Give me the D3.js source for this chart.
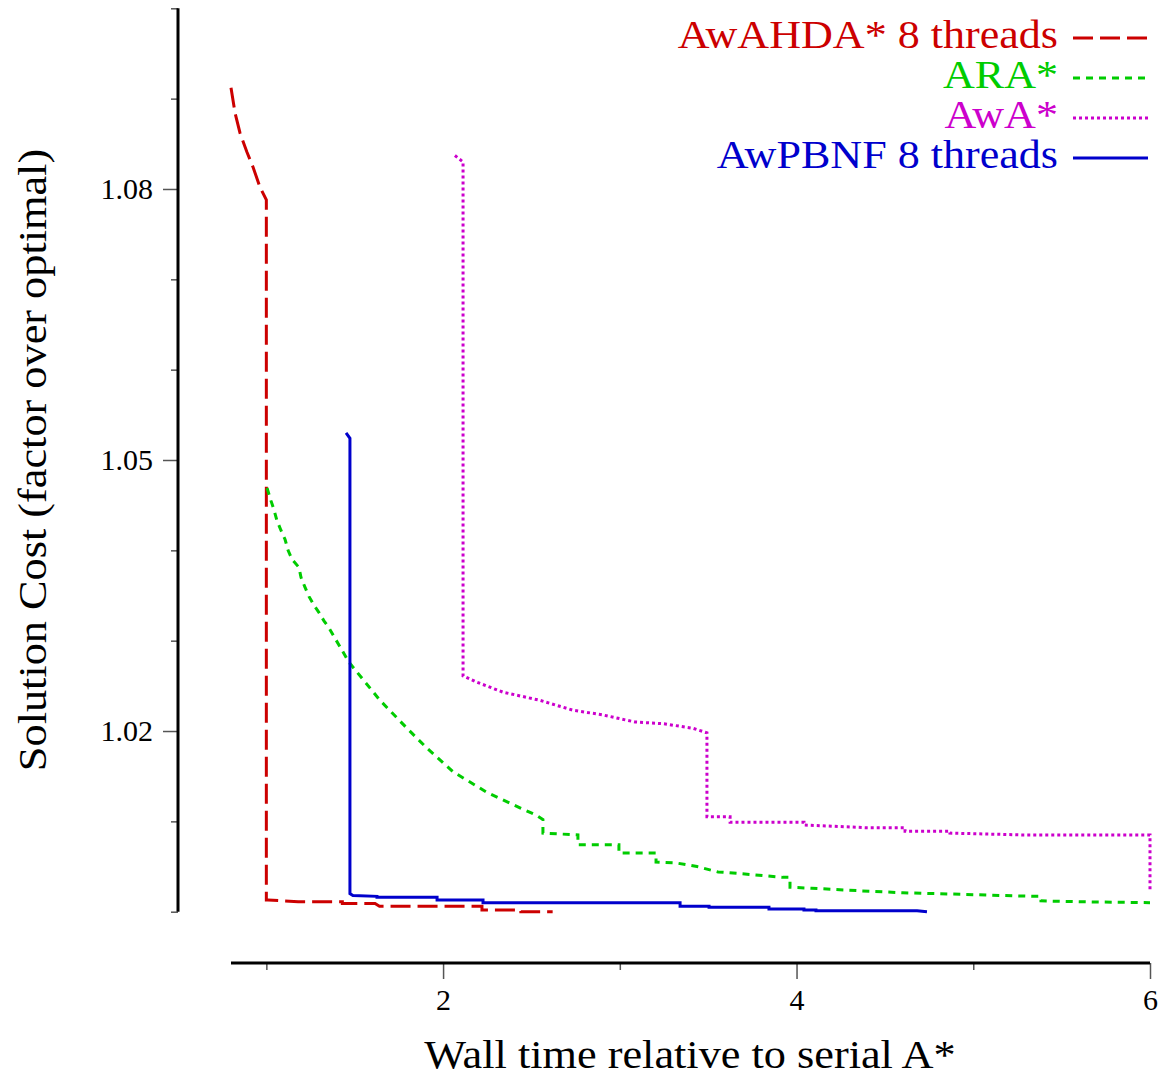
<!DOCTYPE html>
<html>
<head>
<meta charset="utf-8">
<script src="https://cdn.jsdelivr.net/npm/d3@7"></script>
<style>
  body { margin: 0; background: #fff; }
  svg { display: block; }
</style>
</head>
<body>
<div class="chart"></div>
<script>
// Chart parameters
const width = 1163;
const height = 1076;
const plot = { left: 231, right: 1150, top: 8.3, bottom: 911.7 };
const yAxisX = 178;
const xAxisY = 963;
const fontFamily = "'Liberation Serif', 'DejaVu Serif', serif";

// Series data (wall time relative to serial A*, solution cost)
const awahdaTime = [0.8, 0.823, 0.851, 0.89, 0.925, 0.964, 1.0, 1.0, 1.009, 1.18, 1.43, 1.43, 1.615, 1.64, 2.22, 2.22, 2.44, 2.44, 2.62];
const awahdaCost = [1.0912, 1.0884, 1.0862, 1.0841, 1.0824, 1.0802, 1.0788, 1.0013, 1.0013, 1.0011, 1.0011, 1.0009, 1.0009, 1.0006, 1.0006, 1.0002, 1.0002, 1.0, 1.0];

const araTime = [1.004, 1.026, 1.043, 1.06, 1.083, 1.106, 1.123, 1.145, 1.185, 1.196, 1.219, 1.241, 1.27, 1.298, 1.326, 1.355, 1.468, 1.643, 1.796, 1.909, 2.056, 2.249, 2.435, 2.526, 2.565, 2.565, 2.763, 2.763, 2.995, 2.995, 3.205, 3.205, 3.318, 3.437, 3.556, 3.691, 3.923, 3.963, 3.963, 4.087, 4.37, 4.602, 5.344, 5.383, 5.383, 5.604, 6.0];
const araCost = [1.0469, 1.0455, 1.0445, 1.0433, 1.0422, 1.0412, 1.04, 1.039, 1.0381, 1.037, 1.0359, 1.0349, 1.0339, 1.0331, 1.0322, 1.0314, 1.0276, 1.0234, 1.0203, 1.0181, 1.0155, 1.0132, 1.0115, 1.0107, 1.0102, 1.0087, 1.0085, 1.0074, 1.0074, 1.0065, 1.0065, 1.0055, 1.0054, 1.005, 1.0044, 1.0042, 1.0038, 1.0038, 1.0027, 1.0026, 1.0023, 1.0021, 1.0017, 1.0017, 1.0012, 1.0011, 1.001];

const awaTime = [2.067, 2.113, 2.113, 2.192, 2.339, 2.548, 2.735, 2.899, 3.086, 3.25, 3.414, 3.493, 3.493, 3.624, 3.624, 4.042, 4.042, 4.393, 4.614, 4.614, 4.868, 4.868, 5.276, 6.0, 6.0];
const awaCost = [1.0837, 1.083, 1.0261, 1.0254, 1.0243, 1.0234, 1.0223, 1.0218, 1.021, 1.0208, 1.0203, 1.0198, 1.0105, 1.0105, 1.0099, 1.0099, 1.0096, 1.0093, 1.0093, 1.0089, 1.0089, 1.0087, 1.0085, 1.0085, 1.0022];

const awpbnfTime = [1.451, 1.473, 1.473, 1.49, 1.626, 1.626, 1.966, 1.966, 2.226, 2.226, 3.341, 3.341, 3.505, 3.505, 3.844, 3.844, 4.042, 4.042, 4.11, 4.11, 4.682, 4.738];
const awpbnfCost = [1.053, 1.0524, 1.002, 1.0018, 1.0017, 1.0016, 1.0016, 1.0013, 1.0013, 1.001, 1.001, 1.0006, 1.0006, 1.0005, 1.0005, 1.0003, 1.0003, 1.0002, 1.0002, 1.0001, 1.0001, 1.0];

// Legend / series descriptions
const seriesNames = ['AwAHDA* 8 threads', 'ARA*', 'AwA*', 'AwPBNF 8 threads'];
const seriesColors = ['#cc0000', '#00cc00', '#cc00cc', '#0000cc'];
const seriesDashes = ['20,7', '7,6', '3,3', null];

// Axis ticks
const xMajorTicks = [2, 4, 6];
const xMinorTicks = [1, 3, 5];
const yMajorTicks = [1.02, 1.05, 1.08];
const yMinorTicks = [1.0, 1.01, 1.03, 1.04, 1.06, 1.07, 1.09, 1.1];

const series = [
  d3.zip(awahdaTime, awahdaCost),
  d3.zip(araTime, araCost),
  d3.zip(awaTime, awaCost),
  d3.zip(awpbnfTime, awpbnfCost)
];

const svg = d3.select('.chart')
  .append('svg')
  .attr('width', width)
  .attr('height', height)
  .style('font-family', fontFamily);

const x = d3.scaleLinear()
  .domain([0.8, 6])
  .range([plot.left, plot.right]);

const y = d3.scaleLinear()
  .domain([1.0, 1.1])
  .range([plot.bottom, plot.top]);

// widen a text a little, the original serif face is wider than Liberation Serif
function widen(sel, factor) {
  sel.each(function () {
    const len = this.getComputedTextLength();
    d3.select(this)
      .attr('textLength', len * factor)
      .attr('lengthAdjust', 'spacingAndGlyphs');
  });
}

// Y axis
const yMinor = svg.append('g')
  .attr('transform', `translate(${yAxisX}, 0)`)
  .call(d3.axisLeft(y).tickValues(yMinorTicks).tickSize(7).tickFormat(''));

const yMajor = svg.append('g')
  .attr('transform', `translate(${yAxisX}, 0)`)
  .call(d3.axisLeft(y).tickValues(yMajorTicks).tickSize(15).tickPadding(10).tickFormat(d3.format('.2f')));

[yMinor, yMajor].forEach(g => {
  g.select('.domain').remove();
  g.selectAll('.tick line').attr('stroke', '#555').attr('stroke-width', 1.5);
});
yMajor.selectAll('text')
  .style('font-family', fontFamily)
  .style('font-size', '30px')
  .attr('fill', '#000');

svg.append('line')
  .attr('x1', yAxisX).attr('x2', yAxisX)
  .attr('y1', y(1.1)).attr('y2', y(1.0))
  .attr('stroke', '#000')
  .attr('stroke-width', 3);

// X axis
const xMinor = svg.append('g')
  .attr('transform', `translate(0, ${xAxisY})`)
  .call(d3.axisBottom(x).tickValues(xMinorTicks).tickSize(7).tickFormat(''));

const xMajor = svg.append('g')
  .attr('transform', `translate(0, ${xAxisY})`)
  .call(d3.axisBottom(x).tickValues(xMajorTicks).tickSize(16).tickPadding(10).tickFormat(d3.format('d')));

[xMinor, xMajor].forEach(g => {
  g.select('.domain').remove();
  g.selectAll('.tick line').attr('stroke', '#555').attr('stroke-width', 1.5);
});
xMajor.selectAll('text')
  .style('font-family', fontFamily)
  .style('font-size', '30px')
  .attr('fill', '#000');

svg.append('line')
  .attr('x1', x(0.8)).attr('x2', x(6))
  .attr('y1', xAxisY).attr('y2', xAxisY)
  .attr('stroke', '#000')
  .attr('stroke-width', 3);

// Axis titles
svg.append('text')
  .attr('x', 690)
  .attr('y', 1068)
  .attr('text-anchor', 'middle')
  .style('font-size', '41px')
  .text('Wall time relative to serial A*')
  .call(widen, 1.08);

svg.append('text')
  .attr('transform', 'translate(46, 460) rotate(-90)')
  .attr('text-anchor', 'middle')
  .style('font-size', '41px')
  .text('Solution Cost (factor over optimal)')
  .call(widen, 1.08);

// Lines
const line = d3.line()
  .x(d => x(d[0]))
  .y(d => y(d[1]));

svg.append('g')
  .selectAll('path')
  .data(series)
  .join('path')
    .attr('d', line)
    .attr('fill', 'none')
    .attr('stroke', (d, i) => seriesColors[i])
    .attr('stroke-width', 3)
    .attr('stroke-dasharray', (d, i) => seriesDashes[i]);

// Legend
const legend = svg.append('g')
  .selectAll('g')
  .data(seriesNames)
  .join('g')
    .attr('transform', (d, i) => `translate(0, ${48 + i * 40})`);

legend.append('text')
  .attr('x', 1058)
  .attr('text-anchor', 'end')
  .attr('fill', (d, i) => seriesColors[i])
  .style('font-size', '39px')
  .text(d => d)
  .call(widen, 1.13);

legend.append('line')
  .attr('x1', 1073).attr('x2', 1148)
  .attr('y1', -10).attr('y2', -10)
  .attr('stroke', (d, i) => seriesColors[i])
  .attr('stroke-width', 3)
  .attr('stroke-dasharray', (d, i) => seriesDashes[i]);
</script>
</body>
</html>
